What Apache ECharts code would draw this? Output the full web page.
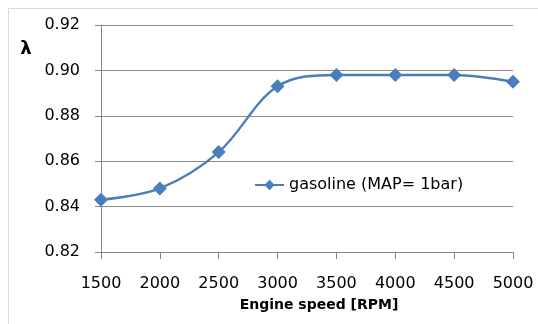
<!DOCTYPE html>
<html>
<head>
<meta charset="utf-8">
<script src="https://cdn.jsdelivr.net/npm/echarts@6/dist/echarts.min.js"></script>
<style>
  html, body { margin: 0; padding: 0; background: #fff; }
  #chart { width: 538px; height: 324px; }
</style>
</head>
<body>
<div id="chart"></div>
<script>
// Engine speed (RPM) and measured lambda
const rpm = [1500, 2000, 2500, 3000, 3500, 4000, 4500, 5000];
const lambda = [0.843, 0.848, 0.864, 0.893, 0.898, 0.898, 0.898, 0.895];
const seriesName = 'gasoline (MAP= 1bar)';
const xTitle = 'Engine speed [RPM]';
const yTitle = 'λ';

const font = '"DejaVu Sans", sans-serif';
const chart = echarts.init(document.getElementById('chart'), null, { renderer: 'canvas' });

chart.setOption({
  animation: false,
  backgroundColor: '#ffffff',
  graphic: [{
    // chart-area frame
    type: 'rect',
    shape: { x: 8.5, y: 8.5, width: 600, height: 400 },
    style: { fill: 'none', stroke: '#d9d9d9', lineWidth: 1 },
    silent: true
  }, {
    type: 'text', x: 26, y: 49,
    style: { text: yTitle, font: 'bold 18px "DejaVu Sans", sans-serif', fill: '#000',
             align: 'center', verticalAlign: 'middle' }
  }, {
    type: 'text', x: 319, y: 305,
    style: { text: xTitle, font: 'bold 14px "DejaVu Sans", sans-serif', fill: '#000',
             align: 'center', verticalAlign: 'middle' }
  }],
  grid: { left: 101, right: 25, top: 25, bottom: 72 },
  legend: {
    left: 249, top: 172,
    itemWidth: 29, itemHeight: 13,
    textStyle: { fontFamily: font, fontSize: 16, color: '#000' },
    data: [seriesName]
  },
  xAxis: {
    type: 'value', min: 1500, max: 5000, interval: 500,
    axisLine: { lineStyle: { color: '#868686' } },
    axisTick: { show: true, length: 7, lineStyle: { color: '#868686' } },
    axisLabel: { fontFamily: font, fontSize: 16, color: '#000', margin: 24,
                 formatter: v => String(v) },
    splitLine: { show: false }
  },
  yAxis: {
    type: 'value', min: 0.82, max: 0.92, interval: 0.02,
    axisLine: { show: true, lineStyle: { color: '#868686' } },
    axisTick: { show: true, length: 6, lineStyle: { color: '#868686' } },
    axisLabel: { fontFamily: font, fontSize: 16, color: '#000', margin: 21,
                 formatter: v => v.toFixed(2) },
    splitLine: { lineStyle: { color: '#8c8c8c' } }
  },
  series: [{
    name: seriesName,
    type: 'line',
    data: rpm.map((x, i) => [x, lambda[i]]),
    smooth: 0.35,
    symbol: 'diamond', symbolSize: 14,
    lineStyle: { color: '#4a7ebb', width: 2.4 },
    itemStyle: { color: '#4a7ebb' }
  }]
});
</script>
</body>
</html>
